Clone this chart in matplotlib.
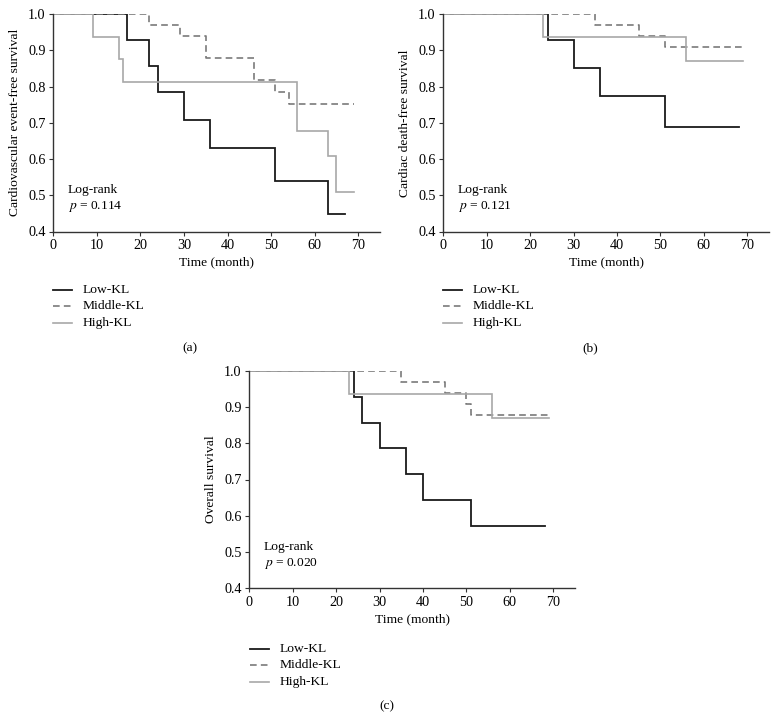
import matplotlib.pyplot as plt

plt.rcParams['font.family'] = ['Liberation Serif', 'DejaVu Serif']

#%% data (step times in months, survival after each step)
groups = ['Low-KL', 'Middle-KL', 'High-KL']

a_low_t = [0, 17, 22, 24, 30, 36, 51, 63, 67]
a_low_s = [1.0, 0.929, 0.857, 0.786, 0.707, 0.629, 0.539, 0.449, 0.449]
a_mid_t = [0, 22, 29, 35, 46, 51, 54, 69]
a_mid_s = [1.0, 0.970, 0.939, 0.879, 0.818, 0.784, 0.751, 0.751]
a_high_t = [0, 9, 15, 16, 56, 63, 65, 69]
a_high_s = [1.0, 0.9375, 0.875, 0.8125, 0.677, 0.609, 0.508, 0.508]

b_low_t = [0, 24, 30, 36, 51, 68]
b_low_s = [1.0, 0.929, 0.851, 0.774, 0.688, 0.688]
b_mid_t = [0, 35, 45, 51, 69]
b_mid_s = [1.0, 0.970, 0.940, 0.909, 0.909]
b_high_t = [0, 23, 56, 69]
b_high_s = [1.0, 0.9375, 0.871, 0.871]

c_low_t = [0, 24, 26, 30, 36, 40, 51, 68]
c_low_s = [1.0, 0.929, 0.857, 0.786, 0.714, 0.643, 0.571, 0.571]
c_mid_t = [0, 35, 45, 50, 51, 69]
c_mid_s = [1.0, 0.970, 0.940, 0.909, 0.879, 0.879]
c_high_t = [0, 23, 56, 69]
c_high_s = [1.0, 0.9375, 0.871, 0.871]

ylabels = ['Cardiovascular event-free survival', 'Cardiac death-free survival', 'Overall survival']
pvals = ['0.114', '0.121', '0.020']
tags = ['(a)', '(b)', '(c)']

styles = [dict(color='#1a1a1a', lw=1.3, ls='-'),
          dict(color='#7a7a7a', lw=1.2, ls=(0, (4, 2.5))),
          dict(color='#a8a8a8', lw=1.2, ls='-')]

fs = 9.7

#%% figure
fig = plt.figure(figsize=(7.78, 7.21), dpi=100)

W, H = 778, 721
boxes = [(53.3, 14, 380, 231.5), (443.3, 14, 769, 231.5), (249.3, 371, 575, 588)]
legend_pos = [(53, 290), (443, 290), (250, 649)]
tag_pos = [(190, 348), (590, 348), (387, 706)]

panels = [[(a_low_t, a_low_s), (a_mid_t, a_mid_s), (a_high_t, a_high_s)],
          [(b_low_t, b_low_s), (b_mid_t, b_mid_s), (b_high_t, b_high_s)],
          [(c_low_t, c_low_s), (c_mid_t, c_mid_s), (c_high_t, c_high_s)]]

for i, curves in enumerate(panels):
    x0, y0, x1, y1 = boxes[i]
    ax = fig.add_axes([x0 / W, 1 - y1 / H, (x1 - x0) / W, (y1 - y0) / H])
    for (t, s), st in zip(curves, styles):
        ax.plot(t, s, drawstyle='steps-post', solid_joinstyle='miter', **st)
    ax.set_xlim(0, 75)
    ax.set_ylim(0.4, 1.0)
    ax.set_xticks(range(0, 80, 10))
    ax.set_yticks([0.4, 0.5, 0.6, 0.7, 0.8, 0.9, 1.0])
    ax.set_yticklabels(['%.1f' % v for v in [0.4, 0.5, 0.6, 0.7, 0.8, 0.9, 1.0]])
    for side in ['top', 'right']:
        ax.spines[side].set_visible(False)
    for side in ['left', 'bottom']:
        ax.spines[side].set_color('#333333')
        ax.spines[side].set_linewidth(1.0)
    ax.tick_params(direction='out', length=3, width=0.8, color='#333333',
                   labelsize=fs + 0.5, pad=2.5)
    ax.set_xlabel('Time (month)', fontsize=fs, labelpad=3)
    ax.set_ylabel(ylabels[i], fontsize=fs, labelpad=5)
    ax.text(0.045, 0.19, 'Log-rank', transform=ax.transAxes, fontsize=fs, va='center')
    ax.text(0.045, 0.115, '$p$ = ' + pvals[i], transform=ax.transAxes, fontsize=fs,
            va='center', math_fontfamily='stix')

    # legend drawn below each panel
    lx, ly = legend_pos[i]
    for k, st in enumerate(styles):
        yy = 1 - (ly + 16.3 * k) / H
        fig.add_artist(plt.Line2D([lx / W, (lx + 19) / W], [yy, yy], **st))
        fig.text((lx + 30) / W, yy, groups[k], fontsize=fs, va='center')
    tx, ty = tag_pos[i]
    fig.text(tx / W, 1 - ty / H, tags[i], fontsize=fs, ha='center', va='center')

plt.savefig('out.png', dpi=100)
